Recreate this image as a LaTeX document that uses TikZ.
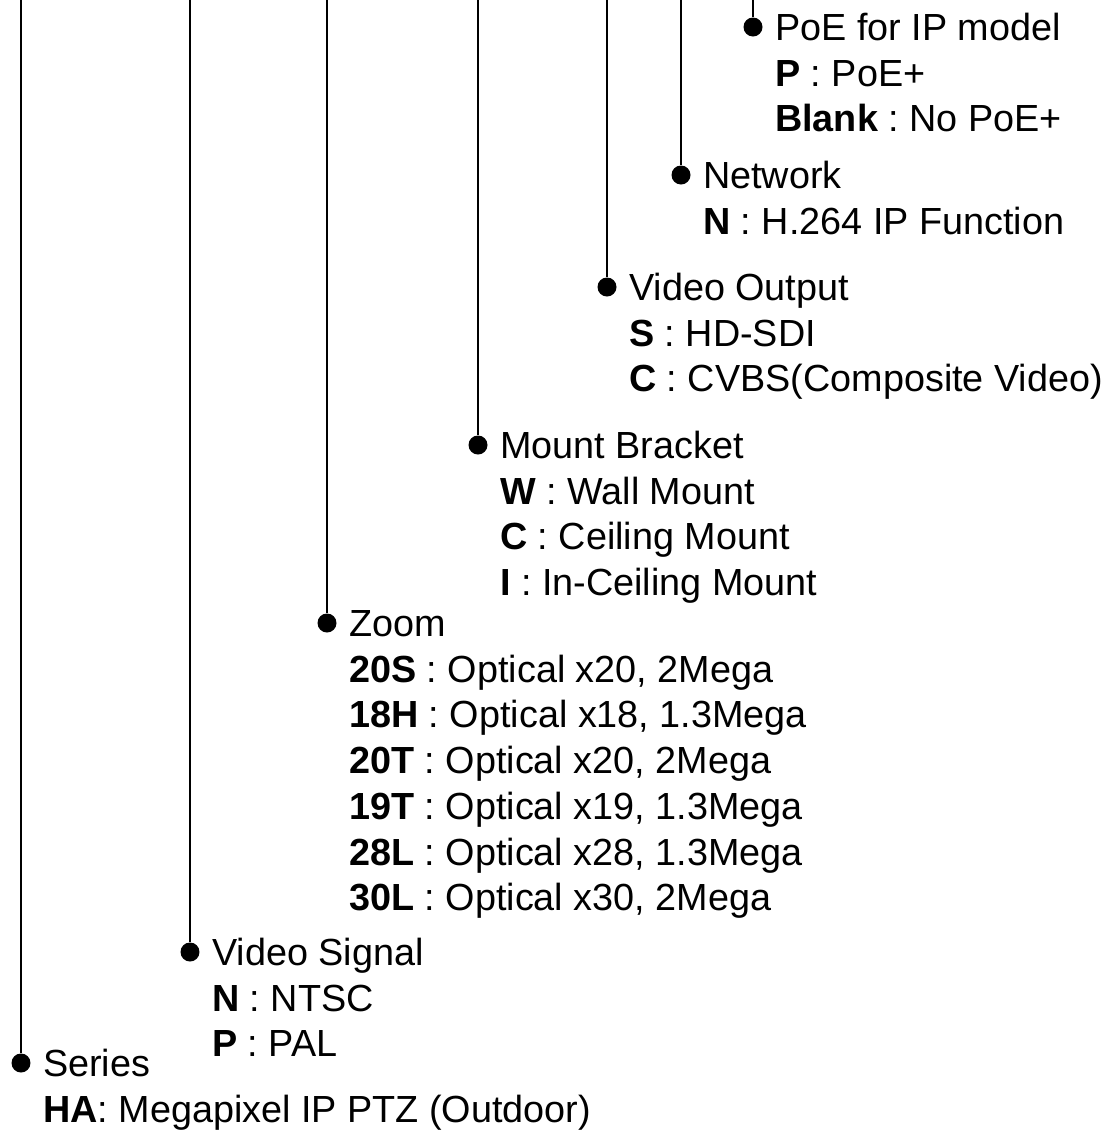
\documentclass[tikz,border=0pt]{standalone}
\usepackage{fontspec}
\setmainfont{Liberation Sans}
\frenchspacing
\usetikzlibrary{positioning}
\tikzset{
    keydot/.style={circle, fill=black, inner sep=0pt, minimum size=0.38cm},
    keyline/.style={line width=1.7pt, draw=black},
    keytitle/.style={inner sep=0pt, anchor=west, text height=15.4pt, text depth=0pt,
        font=\fontsize{21.5pt}{25pt}\selectfont},
    keyitem/.style={inner sep=0pt, anchor=north west, text height=0.9cm, text depth=0pt,
        font=\fontsize{21.5pt}{25pt}\selectfont},
}

\begin{document}
\begin{tikzpicture}[x=0.02cm, y=-0.02cm]

    \useasboundingbox (0,0) rectangle (1111,1130);

    % where each lead starts, on the top edge
    \coordinate (poe-top) at (753,0);
    \coordinate (net-top) at (681,0);
    \coordinate (vout-top) at (607,0);
    \coordinate (mount-top) at (478,0);
    \coordinate (zoom-top) at (327,0);
    \coordinate (vsig-top) at (190,0);
    \coordinate (series-top) at (21,0);

    \node[keydot] (poe) at (753,27) {};
    \node[keydot] (net) at (681,175) {};
    \node[keydot] (vout) at (607,287) {};
    \node[keydot] (mount) at (478,445) {};
    \node[keydot] (zoom) at (327,623) {};
    \node[keydot] (vsig) at (190,952) {};
    \node[keydot] (series) at (21,1063) {};

    \draw[keyline] (poe-top) -- (poe);
    \draw[keyline] (net-top) -- (net);
    \draw[keyline] (vout-top) -- (vout);
    \draw[keyline] (mount-top) -- (mount);
    \draw[keyline] (zoom-top) -- (zoom);
    \draw[keyline] (vsig-top) -- (vsig);
    \draw[keyline] (series-top) -- (series);

    % PoE
    \node[keytitle, right=0.24cm of poe] (poe-t) {PoE for IP model};
    \node[keyitem] (poe-1) at (poe-t.south west) {\textbf{P} : PoE+};
    \node[keyitem] (poe-2) at (poe-1.south west) {\textbf{Blank} : No PoE+};

    % Network
    \node[keytitle, right=0.24cm of net] (net-t) {Network};
    \node[keyitem] (net-1) at (net-t.south west) {\textbf{N} : H.264 IP Function};

    % Video output
    \node[keytitle, right=0.24cm of vout] (vout-t) {Video Output};
    \node[keyitem] (vout-1) at (vout-t.south west) {\textbf{S} : HD-SDI};
    \node[keyitem] (vout-2) at (vout-1.south west) {\textbf{C} : CVBS(Composite Video)};

    % Mount bracket
    \node[keytitle, right=0.24cm of mount] (mount-t) {Mount Bracket};
    \node[keyitem] (mount-1) at (mount-t.south west) {\textbf{W} : Wall Mount};
    \node[keyitem] (mount-2) at (mount-1.south west) {\textbf{C} : Ceiling Mount};
    \node[keyitem] (mount-3) at (mount-2.south west) {\textbf{I} : In-Ceiling Mount};

    % Zoom
    \node[keytitle, right=0.24cm of zoom] (zoom-t) {Zoom};
    \node[keyitem] (zoom-1) at (zoom-t.south west) {\textbf{20S} : Optical x20, 2Mega};
    \node[keyitem] (zoom-2) at (zoom-1.south west) {\textbf{18H} : Optical x18, 1.3Mega};
    \node[keyitem] (zoom-3) at (zoom-2.south west) {\textbf{20T} : Optical x20, 2Mega};
    \node[keyitem] (zoom-4) at (zoom-3.south west) {\textbf{19T} : Optical x19, 1.3Mega};
    \node[keyitem] (zoom-5) at (zoom-4.south west) {\textbf{28L} : Optical x28, 1.3Mega};
    \node[keyitem] (zoom-6) at (zoom-5.south west) {\textbf{30L} : Optical x30, 2Mega};

    % Video signal
    \node[keytitle, right=0.24cm of vsig] (vsig-t) {Video Signal};
    \node[keyitem] (vsig-1) at (vsig-t.south west) {\textbf{N} : NTSC};
    \node[keyitem] (vsig-2) at (vsig-1.south west) {\textbf{P} : PAL};

    % Series
    \node[keytitle, right=0.24cm of series] (series-t) {Series};
    \node[keyitem] (series-1) at (series-t.south west) {\textbf{HA}: Megapixel IP PTZ (Outdoor)};

\end{tikzpicture}
\end{document}
